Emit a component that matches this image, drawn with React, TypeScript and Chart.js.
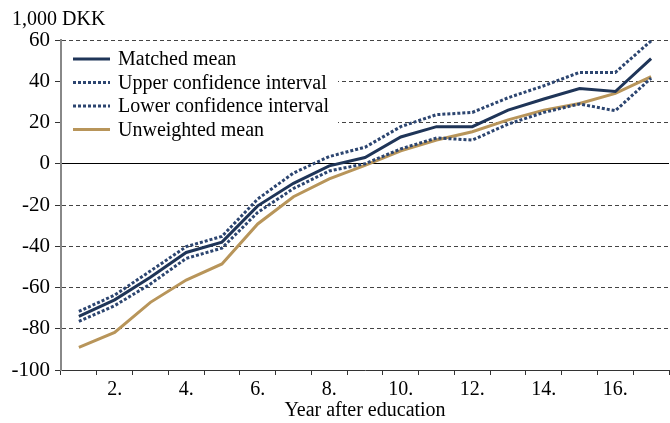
import React, { useEffect, useRef } from "react";
import { Chart, registerables } from "chart.js";

Chart.register(...registerables);

const years = ["1.", "2.", "3.", "4.", "5.", "6.", "7.", "8.", "9.", "10.", "11.", "12.", "13.", "14.", "15.", "16.", "17."];
const matchedMean = [-74, -66, -55, -43, -38, -20.4, -9.5, -1, 3, 13, 18, 18, 26, 31.4, 36.5, 35, 51];
const upperCI = [-71.6, -63.7, -52, -40.2, -35.2, -17.1, -4.5, 3.5, 8, 18, 23.8, 24.9, 32, 37.8, 44.3, 44.3, 59.6];
const lowerCI = [-76.4, -68.8, -58.3, -45.9, -40.9, -23.6, -12, -3.5, 0, 7.2, 12.5, 11.5, 19.2, 24.9, 29, 25.7, 41.5];
const unweightedMean = [-89, -81.8, -67.2, -56.4, -48.6, -29.2, -16, -7.3, -0.8, 6.3, 11.5, 15.5, 21.3, 26, 29.2, 34.1, 42.2];
const yUnit = "1,000 DKK";
const xTitle = "Year after education";

const FONT = "'Liberation Serif', 'Times New Roman', serif";
const NAVY = "#1f3558";
const NAVY_CI = "#2c4570";
const GOLD = "#b8955a";

const legendPlugin = {
  id: "boxLegend",
  beforeDatasetsDraw(chart: any) {
    const ctx = chart.ctx;
    const area = chart.chartArea;
    ctx.save();
    ctx.fillStyle = "#ffffff";
    ctx.fillRect(area.left + 1, area.top + 4, 276, 98);
    const rowH = 23.5;
    chart.data.datasets.forEach((ds: any, i: number) => {
      const y = area.top + 19 + i * rowH;
      ctx.beginPath();
      ctx.strokeStyle = ds.borderColor;
      ctx.lineWidth = ds.borderWidth;
      ctx.setLineDash(ds.borderDash || []);
      ctx.moveTo(area.left + 12, y);
      ctx.lineTo(area.left + 49, y);
      ctx.stroke();
      ctx.setLineDash([]);
      ctx.fillStyle = "#000";
      ctx.font = "20px " + FONT;
      ctx.textBaseline = "middle";
      ctx.textAlign = "left";
      ctx.fillText(ds.label, area.left + 57, y + 1);
    });
    ctx.restore();
  },
  afterDraw(chart: any) {
    const ctx = chart.ctx;
    ctx.save();
    ctx.fillStyle = "#000";
    ctx.font = "20px " + FONT;
    ctx.textBaseline = "alphabetic";
    ctx.textAlign = "left";
    ctx.fillText(yUnit, 12, 25);
    ctx.restore();
  },
};

export default function App() {
  const ref = useRef<HTMLCanvasElement>(null);
  useEffect(() => {
    document.body.style.margin = "0";
    let chart: any = null;
    let cancelled = false;
    const build = () => {
      if (cancelled || !ref.current) return;
      chart = new Chart(ref.current as HTMLCanvasElement, {
        type: "line",
        data: {
          labels: years,
          datasets: [
            { label: "Matched mean", data: matchedMean, borderColor: NAVY, borderWidth: 3, pointRadius: 0, fill: false, tension: 0 },
            { label: "Upper confidence interval", data: upperCI, borderColor: NAVY_CI, borderWidth: 3, borderDash: [3, 2], pointRadius: 0, fill: false, tension: 0 },
            { label: "Lower confidence interval", data: lowerCI, borderColor: NAVY_CI, borderWidth: 3, borderDash: [3, 2], pointRadius: 0, fill: false, tension: 0 },
            { label: "Unweighted mean", data: unweightedMean, borderColor: GOLD, borderWidth: 3, pointRadius: 0, fill: false, tension: 0 },
          ],
        },
        options: {
          responsive: false,
          animation: false,
          layout: { padding: { top: 40, left: 0, right: 1, bottom: 0 } },
          plugins: { legend: { display: false }, tooltip: { enabled: false } },
          scales: {
            x: {
              offset: true,
              afterFit: (s: any) => { s.height = 53; },
              grid: { display: true, drawOnChartArea: false, drawTicks: true, tickLength: 5, offset: true, color: "#333", tickColor: "#333" },
              border: { display: true, color: "#333", width: 1 },
              ticks: {
                autoSkip: false,
                maxRotation: 0,
                padding: 3,
                color: "#000",
                font: { family: FONT, size: 20 },
                callback: (_v: any, i: number) => (i % 2 === 1 ? years[i] : ""),
              },
              title: { display: true, text: xTitle, color: "#000", font: { family: FONT, size: 20 }, padding: { top: 0, bottom: 0 } },
            },
            y: {
              min: -100,
              max: 60,
              afterFit: (s: any) => { s.width = 61; },
              ticks: { stepSize: 20, padding: 5, color: "#000", font: { family: FONT, size: 21 } },
              grid: {
                drawTicks: true,
                tickLength: 6,
                tickColor: "#333",
                lineWidth: 1,
                color: (c: any) => (c.tick && c.tick.value === -100 ? "rgba(0,0,0,0)" : c.tick && c.tick.value === 0 ? "#000" : "#444"),
              },
              border: {
                display: true,
                color: "#888",
                width: 2,
                dash: (c: any) => (c.tick && c.tick.value === 0 ? [] : [4, 3]),
              },
            },
          },
        },
        plugins: [legendPlugin],
      } as any);
    };
    const fonts: any = (document as any).fonts;
    if (fonts && fonts.load) {
      Promise.all([fonts.load("20px 'Liberation Serif'"), fonts.load("20px 'Times New Roman'")])
        .catch(() => null)
        .then(build);
    } else {
      build();
    }
    return () => {
      cancelled = true;
      if (chart) chart.destroy();
    };
  }, []);
  return (
    <div style={{ width: 670, height: 423 }}>
      <span style={{ fontFamily: FONT, position: "absolute", visibility: "hidden" }}>a</span>
      <canvas ref={ref} width={670} height={423} />
    </div>
  );
}
